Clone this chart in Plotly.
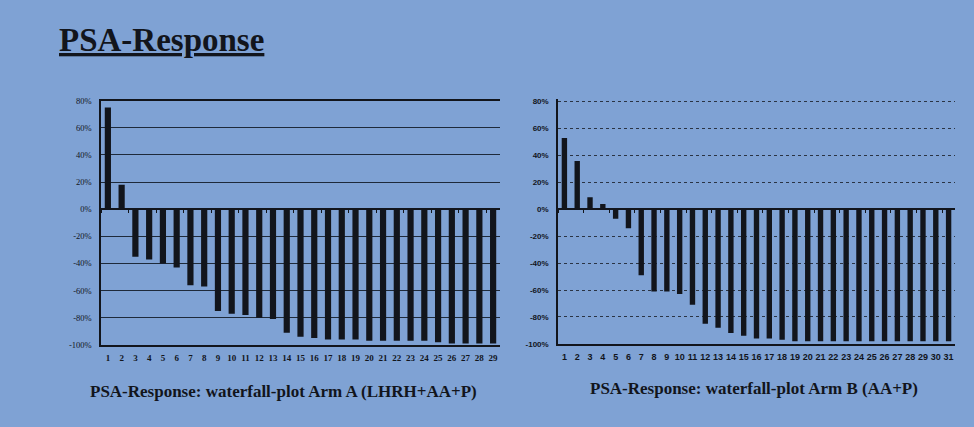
import plotly.graph_objects as go

# ---- data ----
arm_a_patients = [str(i) for i in range(1, 30)]
arm_a_change = [75, 18, -35, -37, -40, -43, -56, -57, -75, -77, -78, -80, -81, -91,
                -94, -95, -96, -96, -96, -97, -97, -97, -97, -97, -98, -99, -99, -99, -99]
arm_b_patients = [str(i) for i in range(1, 32)]
arm_b_change = [53, 36, 9, 4, -7, -14, -49, -61, -61, -63, -71, -85, -88, -92, -94,
                -96, -96, -97, -98, -98, -98, -98, -98, -98, -98, -98, -98, -98, -98, -98, -98]
y_ticks = [80, 60, 40, 20, 0, -20, -40, -60, -80, -100]
y_ticklabels = [f"{v}%" for v in y_ticks]

title_text = "PSA-Response"
caption_a = "PSA-Response: waterfall-plot Arm A (LHRH+AA+P)"
caption_b = "PSA-Response: waterfall-plot Arm B (AA+P)"

BG = "#7fa2d4"
INK = "#12151c"
W, H = 974, 427

def py(pix):
    return (H - pix) / H

fig = go.Figure()
fig.add_trace(go.Bar(x=arm_a_patients, y=arm_a_change, marker=dict(color=INK, line=dict(width=0)),
                     width=0.45, xaxis="x", yaxis="y", showlegend=False))
fig.add_trace(go.Bar(x=arm_b_patients, y=arm_b_change, marker=dict(color=INK, line=dict(width=0)),
                     width=0.42, xaxis="x2", yaxis="y2", showlegend=False))

# zero-line tick axes (overlay)
fig.add_trace(go.Scatter(x=arm_a_patients, y=[0]*len(arm_a_patients), xaxis="x3", yaxis="y",
                         mode="markers", marker=dict(opacity=0), showlegend=False, hoverinfo="skip"))
fig.add_trace(go.Scatter(x=arm_b_patients, y=[0]*len(arm_b_patients), xaxis="x4", yaxis="y2",
                         mode="markers", marker=dict(opacity=0), showlegend=False, hoverinfo="skip"))

ya_dom = [py(348), py(98)]
y2_top = 99 - 2 * 248 / 180
yb_dom = [py(347), py(y2_top)]
xa_dom = [101 / W, 500 / W]
xb_dom = [558 / W, 955 / W]
zero_a = ya_dom[0] + (ya_dom[1] - ya_dom[0]) * 100 / 180
zero_b = yb_dom[0] + (yb_dom[1] - yb_dom[0]) * 100 / 182

fig.update_layout(
    width=W, height=H,
    margin=dict(l=0, r=0, t=0, b=0),
    paper_bgcolor=BG, plot_bgcolor=BG,
    xaxis=dict(domain=xa_dom, anchor="y", type="category", showgrid=False,
               range=[-0.5, len(arm_a_patients) - 0.5],
               showline=True, linecolor=INK, linewidth=1.5, mirror=True, ticks="",
               tickfont=dict(family="Liberation Serif", size=9, color=INK, weight="bold"),
               ticklabelstandoff=4),
    yaxis=dict(domain=ya_dom, anchor="x", range=[-100, 80], tickvals=y_ticks,
               ticktext=y_ticklabels, showgrid=True, gridcolor="#1e2a3a", gridwidth=1.2,
               zeroline=True, zerolinecolor=INK, zerolinewidth=1.8,
               showline=True, linecolor=INK, linewidth=1.5, ticks="",
               tickfont=dict(family="Liberation Serif", size=8.5, color=INK),
               ticklabelstandoff=6),
    xaxis2=dict(domain=xb_dom, anchor="y2", type="category", showgrid=False,
                range=[-0.5, len(arm_b_patients) - 0.5],
                showline=True, linecolor=INK, linewidth=1.5, ticks="",
                tickfont=dict(family="Liberation Sans", size=9, color=INK, weight="bold"),
                ticklabelstandoff=4),
    yaxis2=dict(domain=yb_dom, anchor="x2", range=[-100, 82], tickvals=y_ticks,
                ticktext=y_ticklabels, showgrid=True, gridcolor="#2a3444", gridwidth=1,
                griddash="dot", zeroline=True, zerolinecolor=INK, zerolinewidth=1.8,
                showline=True, linecolor=INK, linewidth=1.5, ticks="",
                tickfont=dict(family="Liberation Sans", size=8, color=INK, weight="bold"),
                ticklabelstandoff=6),
    xaxis3=dict(domain=xa_dom, anchor="free", position=zero_a, overlaying="x", type="category",
                range=[-0.5, len(arm_a_patients) - 0.5],
                showticklabels=False, showgrid=False, showline=False, zeroline=False,
                ticks="outside", ticklen=3, tickcolor=INK, tickson="boundaries"),
    xaxis4=dict(domain=xb_dom, anchor="free", position=zero_b, overlaying="x2", type="category",
                range=[-0.5, len(arm_b_patients) - 0.5],
                showticklabels=False, showgrid=False, showline=False, zeroline=False,
                ticks="outside", ticklen=3, tickcolor=INK, tickson="boundaries"),
    annotations=[
        dict(text=f"<b><u>{title_text}</u></b>", x=57 / W, y=py(15), xref="paper", yref="paper",
             xanchor="left", yanchor="top", showarrow=False,
             font=dict(family="Liberation Serif", size=33, color=INK)),
        dict(text=f"<b>{caption_a}</b>", x=88 / W, y=py(396), xref="paper", yref="paper",
             xanchor="left", yanchor="middle", showarrow=False,
             font=dict(family="Liberation Serif", size=17, color=INK)),
        dict(text=f"<b>{caption_b}</b>", x=588 / W, y=py(393), xref="paper", yref="paper",
             xanchor="left", yanchor="middle", showarrow=False,
             font=dict(family="Liberation Serif", size=17, color=INK)),
    ],
)

fig.write_html("out.html")
